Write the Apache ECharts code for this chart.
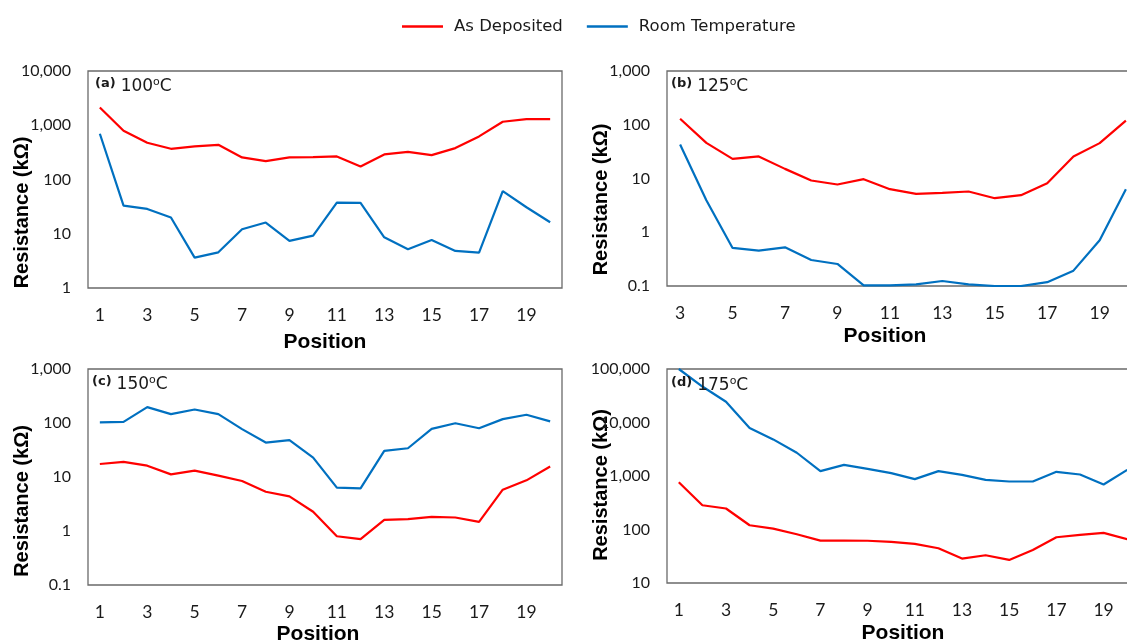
<!DOCTYPE html>
<html>
<head>
<meta charset="utf-8">
<script src="https://cdn.jsdelivr.net/npm/echarts@6/dist/echarts.min.js"></script>
<style>
html,body{margin:0;padding:0;background:#fff;}
#c{width:1127px;height:643px;}
</style>
</head>
<body>
<div id="c"></div>
<script>
// ---- data ----
const posA = ['1','2','3','4','5','6','7','8','9','10','11','12','13','14','15','16','17','18','19','20'];
const asDepA = [2130, 794, 475, 368, 407, 436, 255, 218, 255, 258, 266, 174, 290, 324, 281, 379, 622, 1161, 1300, 1300];
const roomA  = [697, 33, 28.7, 19.9, 3.63, 4.55, 12.1, 16.1, 7.38, 9.25, 37.6, 37.1, 8.6, 5.17, 7.7, 4.82, 4.49, 61, 30.8, 16.3];

const posB = ['3','4','5','6','7','8','9','10','11','12','13','14','15','16','17','18','19','20'];
const asDepB = [129, 46, 23.2, 25.7, 15.1, 9.18, 7.73, 9.72, 6.33, 5.18, 5.41, 5.73, 4.3, 4.89, 8.18, 25.7, 45.5, 119];
const roomB  = [43, 3.95, 0.51, 0.455, 0.525, 0.305, 0.257, 0.103, 0.103, 0.107, 0.124, 0.107, 0.1, 0.1, 0.118, 0.193, 0.71, 6.3];

const posC = ['1','2','3','4','5','6','7','8','9','10','11','12','13','14','15','16','17','18','19','20'];
const asDepC = [17.4, 19, 16.2, 11.2, 13.1, 10.6, 8.43, 5.34, 4.37, 2.27, 0.80, 0.705, 1.61, 1.66, 1.83, 1.78, 1.48, 5.82, 8.67, 15.6];
const roomC  = [103, 105, 197, 146, 178, 146, 77, 43.4, 48, 22.9, 6.34, 6.15, 30.4, 34.1, 78, 99, 80, 118, 142, 107];

const posD = ['1','2','3','4','5','6','7','8','9','10','11','12','13','14','15','16','17','18','19','20'];
const asDepD = [767, 284, 247, 120, 104, 81.5, 62, 62, 61.6, 58.6, 53.7, 44.6, 28.6, 33, 27, 41.5, 71.6, 79.2, 86.3, 65.8];
const roomD  = [100000, 47000, 24400, 7860, 4830, 2720, 1232, 1618, 1362, 1130, 873, 1232, 1052, 848, 789, 789, 1197, 1067, 693, 1304];

const panelLabels = ['(a)', '(b)', '(c)', '(d)'];
const panelTemps = ['100', '125', '150', '175'];
const yMins = [1, 0.1, 0.1, 10];
const yMaxs = [10000, 1000, 1000, 100000];
const seriesNames = ['As Deposited', 'Room Temperature'];

// ---- styling ----
const RED = '#FF0000', BLUE = '#0070C0';
const grids = [
  {left: 88, top: 71, width: 474, height: 217},
  {left: 667, top: 71, width: 472, height: 215},
  {left: 88, top: 369, width: 474, height: 216},
  {left: 667, top: 369, width: 472, height: 214}
];
const cats = [posA, posB, posC, posD];
const dataSets = [[asDepA, roomA], [asDepB, roomB], [asDepC, roomC], [asDepD, roomD]];
const xNameGap = [44, 40, 39, 40];
const xNamePad = [[0,0,0,0],[0,36,0,0],[0,14,0,0],[0,0,0,0]];
const yNamePad = [[0,66,0,0],[0,42,0,0],[0,48,0,0],[0,18,0,0]];
const titlePos = [[95,77],[671,77],[92,375],[671,376]];

function fmt(v){ return Number(v).toLocaleString('en-US'); }

const option = {
  animation: false,
  backgroundColor: '#fff',
  legend: {
    data: seriesNames,
    left: 397, top: 13,
    icon: 'rect', itemWidth: 41, itemHeight: 2.5, itemGap: 24,
    textStyle: {fontFamily: 'DejaVu Sans', fontSize: 16.5, color: '#1a1a1a', padding: [0,0,0,6]}
  },
  title: panelLabels.map((p, i) => ({
    text: '{b|' + p + '} {t|' + panelTemps[i] + '}{s|o}{t|C}',
    left: titlePos[i][0], top: titlePos[i][1], padding: 0,
    textStyle: {
      fontWeight: 'normal',
      rich: {
        b: {fontFamily: 'DejaVu Sans', fontWeight: 'bold', fontSize: 13, color: '#1a1a1a', verticalAlign: 'top', lineHeight: 18},
        t: {fontFamily: 'DejaVu Sans', fontWeight: 'normal', fontSize: 17, color: '#1a1a1a', lineHeight: 20},
        s: {fontFamily: 'DejaVu Sans', fontWeight: 'normal', fontSize: 11, color: '#1a1a1a', verticalAlign: 'top', lineHeight: 20}
      }
    }
  })),
  grid: grids.map(g => Object.assign({show: true, borderColor: '#6a6a6a', borderWidth: 1.3, backgroundColor: 'transparent', containLabel: false, outerBoundsMode: 'none'}, g)),
  xAxis: grids.map((g, i) => ({
    type: 'category', gridIndex: i, data: cats[i], boundaryGap: true,
    axisLine: {show: false}, axisTick: {show: false},
    axisLabel: {interval: 1, margin: 18, fontFamily: 'Lato', fontSize: 17.5, color: '#1a1a1a'},
    name: 'Position', nameLocation: 'middle', nameGap: xNameGap[i], nameMoveOverlap: false,
    nameTextStyle: {fontFamily: 'Liberation Sans', fontWeight: 'bold', fontSize: 21, color: '#000', padding: xNamePad[i]}
  })),
  yAxis: grids.map((g, i) => ({
    type: 'log', logBase: 10, gridIndex: i, min: yMins[i], max: yMaxs[i],
    axisLine: {show: false}, axisTick: {show: false}, splitLine: {show: false}, minorTick: {show: false},
    axisLabel: {margin: 17, fontFamily: 'Lato', fontSize: 16, color: '#1a1a1a', formatter: fmt},
    name: 'Resistance (kΩ)', nameLocation: 'middle', nameGap: 56, nameRotate: 90, nameMoveOverlap: false,
    nameTextStyle: {fontFamily: 'Liberation Sans', fontWeight: 'bold', fontSize: 20, color: '#000', padding: yNamePad[i]}
  })),
  series: []
};

dataSets.forEach((pair, i) => {
  pair.forEach((vals, k) => {
    option.series.push({
      name: seriesNames[k], type: 'line', xAxisIndex: i, yAxisIndex: i,
      data: vals, symbol: 'none', smooth: false,
      lineStyle: {color: k === 0 ? RED : BLUE, width: 2.2},
      itemStyle: {color: k === 0 ? RED : BLUE},
      clip: true
    });
  });
});

const chart = echarts.init(document.getElementById('c'), null, {renderer: 'canvas'});
chart.setOption(option);
</script>
</body>
</html>
